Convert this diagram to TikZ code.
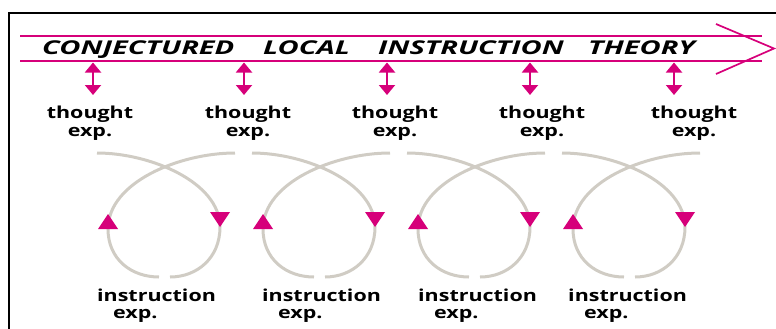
\documentclass[tikz,border=0pt]{standalone}
\usepackage{fontspec}
\usetikzlibrary{arrows.meta}
\newfontfamily\headfont{Open Sans}[FakeStretch=1.53]
\newfontfamily\lblfont{Open Sans}[FakeStretch=1.3]
\definecolor{cltpink}{RGB}{214,0,122}
\definecolor{loopgrey}{RGB}{208,204,196}

\begin{document}
\begin{tikzpicture}[x=1pt, y=-1pt,
    cltline/.style={draw=cltpink, line width=1.7pt},
    thinkarrow/.style={draw=cltpink, line width=2pt,
      {Triangle[width=16pt,length=10pt]}-{Triangle[width=16pt,length=10pt]}},
    loopline/.style={draw=loopgrey, line width=3pt},
    headword/.style={anchor=base west, inner sep=0pt,
      font=\headfont\bfseries\itshape\fontsize{19}{21}\selectfont},
    thoughtlbl/.style={anchor=north, align=center, inner sep=0pt,
      font=\lblfont\bfseries\fontsize{16.5}{18}\selectfont},
    instrlbl/.style={anchor=north west, align=left, inner sep=0pt,
      font=\lblfont\bfseries\fontsize{16.5}{17}\selectfont}]
  \useasboundingbox (0,0) rectangle (776,329);

  % frame
  \draw[line width=2pt] (776,13) -- (9,13) -- (9,329);

  % the long arrow
  \draw[cltline] (20,36) -- (762,36);
  \draw[cltline] (20,61) -- (762,61);
  \draw[cltline, line join=miter] (716,24) -- (774,48.5) -- (716,74);

  % heading
  \node[headword] (hw1) at (42,54.5) {CONJECTURED};
  \node[headword] (hw2) at (263,54.5) {LOCAL};
  \node[headword] (hw3) at (378,54.5) {INSTRUCTION};
  \node[headword] (hw4) at (588,54.5) {THEORY};

  % thought experiments
  \foreach \ax/\lx [count=\i] in {93/90, 244/248, 387/395, 530/542, 674/694} {
    \coordinate (up\i) at (\ax,62.5);
    \coordinate (dn\i) at (\ax,95);
    \draw[thinkarrow] (up\i) -- (dn\i);
    \node[thoughtlbl] (th\i) at (\lx,106) {thought\\exp.};
  }

  % instruction experiments (loops)
  \foreach \c/\lx [count=\i] in {165/97, 320/262, 475/418, 630/568} {
    \draw[loopline] (\c-68,153) .. controls (\c-15,153) and (\c+55,182) .. (\c+55,227)
      .. controls (\c+55,258) and (\c+32,277) .. (\c+5,277);
    \draw[loopline] (\c+70,153) .. controls (\c+15,153) and (\c-57,182) .. (\c-57,229)
      .. controls (\c-57,259) and (\c-34,277) .. (\c-6,277);
    \fill[cltpink] (\c-67,229) -- (\c-47,229) -- (\c-57,214) -- cycle;
    \fill[cltpink] (\c+45,212) -- (\c+65,212) -- (\c+55,227) -- cycle;
    \node[instrlbl] (in\i) at (\lx,289) {instruction\\\hspace*{16pt}exp.};
  }
\end{tikzpicture}
\end{document}
